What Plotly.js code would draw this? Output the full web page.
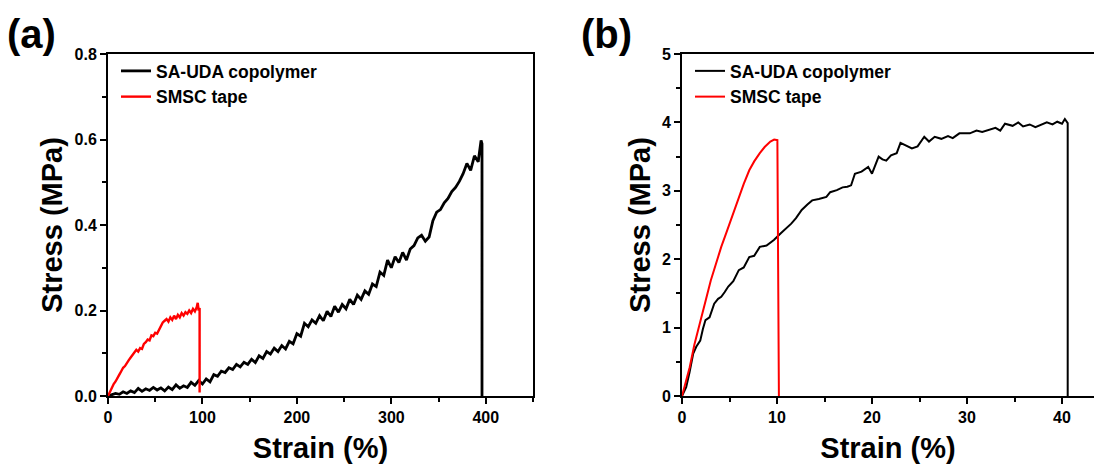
<!DOCTYPE html>
<html>
<head>
<meta charset="utf-8">
<script src="https://cdn.plot.ly/plotly-3.0.1.min.js"></script>
<style>html,body{margin:0;padding:0;background:#fff;overflow:hidden}#chart{width:1094px;height:470px}</style>
</head>
<body>
<div id="chart"></div>
<script>
// Panel (a): SA-UDA copolymer
const aCopolyStrain = [0,4,8,12,16,20,24,28,32,36,40,44,48,52,56,60,64,68,72,76,80,84,88,92,96,100,104,108,112,116,120,124,128,132,136,140,144,148,152,156,160,164,168,172,176,180,184,188,192,196,200,204,208,212,216,220,224,228,232,236,240,244,248,252,256,260,264,268,272,276,280,284,288,292,296,300,304,308,312,316,320,324,328,332,336,340,344,348,352,356,360,364,368,372,376,380,384,388,392,395,396,396];
const aCopolyStress = [0,0.003,0.006,0.004,0.010,0.006,0.012,0.008,0.018,0.011,0.017,0.013,0.020,0.014,0.019,0.012,0.021,0.015,0.026,0.018,0.024,0.020,0.032,0.025,0.036,0.028,0.040,0.033,0.050,0.046,0.058,0.055,0.066,0.062,0.074,0.068,0.079,0.074,0.086,0.078,0.094,0.088,0.104,0.098,0.112,0.104,0.118,0.110,0.128,0.122,0.146,0.140,0.170,0.162,0.178,0.170,0.188,0.176,0.198,0.186,0.210,0.196,0.214,0.204,0.226,0.214,0.236,0.226,0.246,0.238,0.262,0.256,0.290,0.282,0.318,0.300,0.326,0.312,0.336,0.318,0.344,0.352,0.370,0.376,0.362,0.372,0.410,0.430,0.436,0.452,0.462,0.478,0.488,0.502,0.520,0.544,0.528,0.562,0.548,0.598,0.590,0];
// Panel (a): SMSC tape
const aTapeStrain = [0,2,4,6,8,10,12,14,16,18,20,22,24,26,28,30,32,34,36,38,40,42,44,46,48,50,52,54,56,58,60,62,64,66,68,70,72,74,76,78,80,82,84,86,88,90,92,94,95,96,97,97];
const aTapeStress = [0,0.010,0.016,0.028,0.034,0.044,0.050,0.058,0.066,0.070,0.078,0.084,0.090,0.096,0.100,0.108,0.104,0.112,0.110,0.122,0.126,0.132,0.130,0.142,0.140,0.148,0.146,0.156,0.162,0.172,0.176,0.180,0.174,0.184,0.178,0.188,0.180,0.190,0.184,0.194,0.188,0.196,0.192,0.200,0.194,0.204,0.198,0.208,0.218,0.200,0.206,0.008];
// Panel (b): SA-UDA copolymer
const bCopolyStrain = [0,0.44,0.8,1.18,1.5,1.92,2.2,2.47,2.9,3.39,3.8,4.13,4.5,4.87,5.4,5.98,6.5,7.08,7.6,8.19,8.9,9.67,10.4,11.0,11.5,12.0,12.6,13.2,13.7,14.4,15.2,15.6,16.3,16.9,17.4,17.8,18.2,18.9,19.6,20.0,20.7,21.1,21.5,22.0,22.6,23.0,23.7,24.2,24.8,25.5,26.0,26.6,27.3,28.0,28.5,29.2,30.3,31.0,31.6,32.2,33.0,33.5,34.0,34.8,35.4,35.9,36.6,37.2,37.7,38.4,39.0,39.5,40.0,40.3,40.6,40.6];
const bCopolyStress = [0,0.13,0.35,0.62,0.72,0.81,0.98,1.11,1.15,1.35,1.42,1.45,1.52,1.60,1.68,1.84,1.88,2.03,2.05,2.18,2.20,2.28,2.38,2.45,2.52,2.60,2.72,2.80,2.86,2.88,2.91,2.98,3.01,3.05,3.06,3.08,3.25,3.28,3.35,3.25,3.50,3.46,3.44,3.52,3.55,3.70,3.65,3.62,3.65,3.79,3.72,3.79,3.76,3.80,3.77,3.84,3.84,3.88,3.86,3.89,3.92,3.88,3.98,3.95,4.00,3.94,3.97,3.93,3.96,4.00,3.97,4.01,3.98,4.05,3.99,0];
// Panel (b): SMSC tape
const bTapeStrain = [0,0.4,0.81,1.3,1.92,2.5,3.03,3.6,4.13,4.7,5.24,5.98,6.5,7.08,7.6,8.19,8.7,9.3,9.7,10.04,10.2];
const bTapeStress = [0,0.2,0.42,0.75,1.11,1.40,1.69,1.95,2.18,2.40,2.62,2.91,3.10,3.30,3.43,3.55,3.64,3.72,3.75,3.74,0];

const seriesNames = ['SA-UDA copolymer', 'SMSC tape'];
const panelLabels = ['(a)', '(b)'];
const xTitle = 'Strain (%)';
const yTitle = 'Stress (MPa)';

const FONT = 'Liberation Sans, Arial, sans-serif';
const W = 1094, H = 470;
const yDom = [1 - 396 / H, 1 - 54 / H];

const traces = [
  {x: aCopolyStrain, y: aCopolyStress, name: seriesNames[0], mode: 'lines', line: {color: '#000000', width: 2.8}, xaxis: 'x', yaxis: 'y', legend: 'legend'},
  {x: aTapeStrain, y: aTapeStress, name: seriesNames[1], mode: 'lines', line: {color: '#ff0000', width: 2.4}, xaxis: 'x', yaxis: 'y', legend: 'legend'},
  {x: bCopolyStrain, y: bCopolyStress, name: seriesNames[0], mode: 'lines', line: {color: '#000000', width: 2}, xaxis: 'x2', yaxis: 'y2', legend: 'legend2'},
  {x: bTapeStrain, y: bTapeStress, name: seriesNames[1], mode: 'lines', line: {color: '#ff0000', width: 2}, xaxis: 'x2', yaxis: 'y2', legend: 'legend2'}
];

function axisBase() {
  return {
    showgrid: false, zeroline: false, showline: true, linecolor: '#000', linewidth: 2,
    ticks: 'outside', ticklen: 6, tickwidth: 2, tickcolor: '#000',
    tickfont: {family: FONT, size: 16, color: '#000', weight: 'bold'},
    title: {font: {family: FONT, size: 29, color: '#000', weight: 'bold'}}
  };
}
const minorTick = d => ({ticks: 'outside', ticklen: 4, tickwidth: 2, tickcolor: '#000', dtick: d});

const xa = Object.assign(axisBase(), {domain: [108 / W, 533 / W], range: [0, 450], dtick: 100, tick0: 0, mirror: true, anchor: 'y', minor: minorTick(50)});
xa.title.text = xTitle; xa.title.standoff = 12;
const ya = Object.assign(axisBase(), {domain: yDom, range: [0, 0.8], dtick: 0.2, tick0: 0, tickformat: '.1f', mirror: true, anchor: 'x', minor: minorTick(0.1)});
ya.title.text = yTitle; ya.title.standoff = 3;
const xb = Object.assign(axisBase(), {domain: [682 / W, 1], range: [0, (W - 682) / 9.5], dtick: 10, tick0: 0, mirror: true, anchor: 'y2', minor: minorTick(5)});
xb.title.text = xTitle; xb.title.standoff = 12;
const yb = Object.assign(axisBase(), {domain: yDom, range: [0, 5], dtick: 1, tick0: 0, mirror: false, anchor: 'x2', minor: minorTick(0.5)});
yb.title.text = yTitle; yb.title.standoff = 3;

function legendAt(xpx) {
  return {x: xpx / W, y: 1 - 53 / H, xanchor: 'left', yanchor: 'top', bgcolor: 'rgba(0,0,0,0)',
    font: {family: FONT, size: 17.5, color: '#000', weight: 'bold'}, tracegroupgap: 0, itemwidth: 30};
}

const layout = {
  width: W, height: H,
  margin: {l: 0, r: 0, t: 0, b: 0},
  paper_bgcolor: '#fff', plot_bgcolor: '#fff',
  showlegend: true,
  xaxis: xa, yaxis: ya, xaxis2: xb, yaxis2: yb,
  legend: legendAt(116), legend2: legendAt(690),
  annotations: [
    {text: panelLabels[0], xref: 'paper', yref: 'paper', x: 5 / W, y: 1 - 10 / H, xanchor: 'left', yanchor: 'top', showarrow: false,
      font: {family: FONT, size: 40, color: '#000', weight: 'bold'}},
    {text: panelLabels[1], xref: 'paper', yref: 'paper', x: 579 / W, y: 1 - 10 / H, xanchor: 'left', yanchor: 'top', showarrow: false,
      font: {family: FONT, size: 40, color: '#000', weight: 'bold'}}
  ]
};

Plotly.newPlot('chart', traces, layout, {staticPlot: true, displayModeBar: false});
</script>
</body>
</html>
